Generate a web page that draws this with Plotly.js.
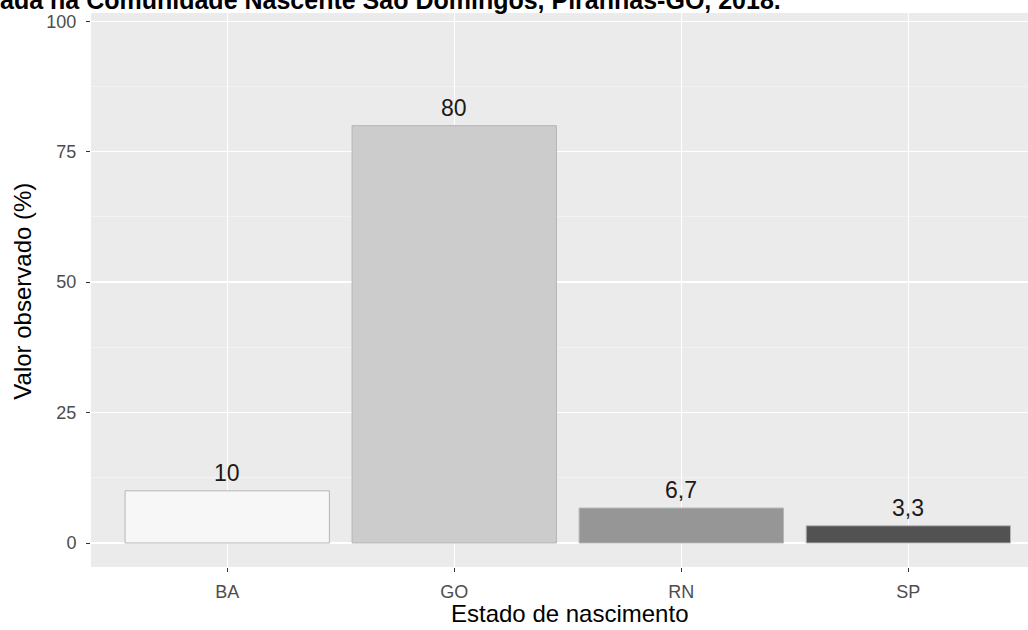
<!DOCTYPE html>
<html>
<head>
<meta charset="utf-8">
<script src="https://cdn.plot.ly/plotly-3.0.1.min.js"></script>
<style>html,body{margin:0;padding:0;background:#fff;overflow:hidden}#chart{width:1028px;height:630px}</style>
</head>
<body>
<div id="chart"></div>
<script>
const categories = ["BA", "GO", "RN", "SP"];
const values = [10, 80, 6.7, 3.3];
const barColors = ["#F7F7F7", "#CCCCCC", "#969696", "#525252"];
const yTicks = [0, 25, 50, 75, 100];
const titleText = "ada na Comunidade Nascente São Domingos, Piranhas-GO, 2018.";
const xTitle = "Estado de nascimento";
const yTitle = "Valor observado (%)";

const labels = values.map(v => String(v).replace('.', ','));
const FONT = 'Liberation Sans, Arial, sans-serif';

const trace = {
  type: 'bar',
  x: categories,
  y: values,
  width: 0.9,
  marker: {color: barColors, line: {color: '#b5b5b5', width: 1}},
  hoverinfo: 'none'
};

const annotations = categories.map((c, i) => ({
  x: c, y: values[i], xref: 'x', yref: 'y',
  text: labels[i], showarrow: false, yanchor: 'bottom', yshift: 3,
  font: {family: FONT, size: 23, color: '#1a1a1a'}
}));
// chart caption (cut at the top edge, as in the reference)
annotations.push({
  xref: 'paper', yref: 'paper', x: 0, y: 1, xanchor: 'left', yanchor: 'bottom',
  xshift: -93, yshift: -3, showarrow: false, text: '<b>' + titleText + '</b>',
  font: {family: FONT, size: 25, color: '#000'}
});
// x axis title
annotations.push({
  xref: 'paper', yref: 'paper', x: 0.511, y: 0, xanchor: 'center', yanchor: 'top',
  yshift: -32, borderpad: 0, showarrow: false, text: xTitle,
  font: {family: FONT, size: 24, color: '#000'}
});
// y axis title
annotations.push({
  xref: 'paper', yref: 'paper', x: 0, y: 0.497, xanchor: 'center', yanchor: 'middle',
  xshift: -68, showarrow: false, text: yTitle, textangle: -90,
  font: {family: FONT, size: 24, color: '#000'}
});

const layout = {
  width: 1028, height: 630,
  margin: {l: 91, r: 0, t: 13, b: 63, pad: 0},
  paper_bgcolor: '#ffffff',
  plot_bgcolor: '#EBEBEB',
  showlegend: false,
  font: {family: FONT},
  xaxis: {
    type: 'category',
    range: [-0.6, 3.527],
    showgrid: true, gridcolor: '#ffffff', gridwidth: 1.4,
    zeroline: false, showline: false,
    ticks: 'outside', ticklen: 4, tickwidth: 1, tickcolor: '#333333',
    ticklabelstandoff: 4,
    tickfont: {size: 18, color: '#4d4d4d'}
  },
  yaxis: {
    range: [-4.6, 101.6],
    tickvals: yTicks,
    showgrid: true, gridcolor: '#ffffff', gridwidth: 1.4,
    minor: {dtick: 12.5, tick0: 0, showgrid: true, gridcolor: '#f5f5f5', gridwidth: 0.7, ticks: ''},
    zeroline: false, showline: false,
    ticks: 'outside', ticklen: 4, tickwidth: 1, tickcolor: '#333333',
    ticklabelstandoff: 6,
    tickfont: {size: 18, color: '#4d4d4d'}
  },
  annotations: annotations
};

Plotly.newPlot('chart', [trace], layout, {displayModeBar: false, staticPlot: true});
</script>
</body>
</html>
